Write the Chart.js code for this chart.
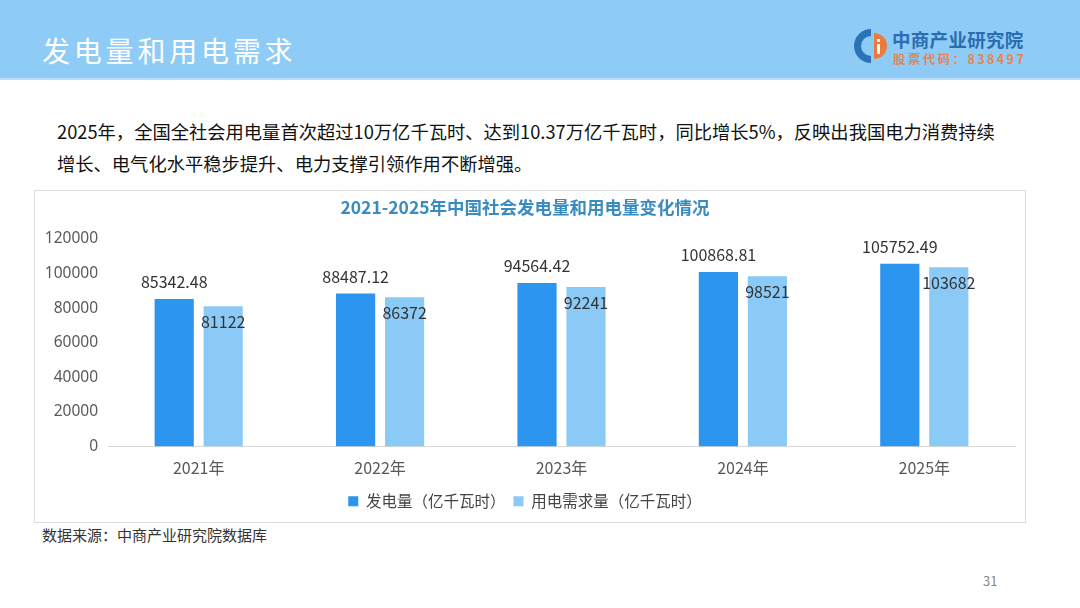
<!DOCTYPE html>
<html><head><meta charset="utf-8">
<script src="https://cdn.jsdelivr.net/npm/chart.js@4"></script>
<style>
html,body{margin:0;padding:0;width:1080px;height:608px;background:#fff;overflow:hidden;font-family:"Noto Sans CJK SC","Noto Sans",sans-serif;}
#header{position:absolute;left:0;top:0;width:1080px;height:78px;background:#8ECBF7;border-bottom:2px solid #b9def9;}
#htitle{position:absolute;left:42px;top:30px;font-size:28px;line-height:40px;color:#fff;letter-spacing:3.8px;}
#logoIcon{position:absolute;left:853px;top:27px;width:36px;height:38px;}
#logoT1{position:absolute;left:892px;top:27px;font-size:18.5px;line-height:24px;color:#2a6db0;font-weight:bold;letter-spacing:0.3px;}
#logoT2{position:absolute;left:893px;top:51px;font-size:12.5px;line-height:16px;color:#e8834c;font-weight:bold;letter-spacing:2.4px;}
#body{position:absolute;left:57px;top:115px;width:1010px;font-size:18.3px;line-height:32px;color:#111;}
#box{position:absolute;left:34px;top:190px;width:990px;height:331px;border:1px solid #dcdcdc;}
#cw{position:absolute;left:35px;top:191px;width:990px;height:330px;}
#src{position:absolute;left:42px;top:524px;font-size:15px;line-height:22px;color:#333;}
#pg{position:absolute;left:983px;top:571px;font-size:13px;color:#888;}
</style></head>
<body>
<div id="header"><div id="htitle">发电量和用电需求</div>
<svg id="logoIcon" viewBox="0 0 36 38"><path d="M18 2 A17 17 0 1 0 18 36 L18 29 A10 10 0 1 1 18 9 Z" fill="#2a73b8"/><path d="M21 6 A13 13 0 0 1 21 32 Z" fill="#ec7a3c"/><rect x="24" y="12" width="3" height="3" fill="#fff"/><rect x="24" y="17" width="3" height="10" fill="#fff"/></svg>
<div id="logoT1">中商产业研究院</div><div id="logoT2">股票代码：838497</div></div>
<div id="body">2025年，全国全社会用电量首次超过10万亿千瓦时、达到10.37万亿千瓦时，同比增长5%，反映出我国电力消费持续<br>增长、电气化水平稳步提升、电力支撑引领作用不断增强。</div>
<div id="box"></div>
<div id="cw"><canvas id="c" width="990" height="330"></canvas></div>
<div id="src">数据来源：中商产业研究院数据库</div>
<div id="pg">31</div>
<script>
const categories = ["2021年","2022年","2023年","2024年","2025年"];
const generation = [85342.48, 88487.12, 94564.42, 100868.81, 105752.49];
const demand = [81122, 86372, 92241, 98521, 103682];
const seriesNames = ["发电量（亿千瓦时）","用电需求量（亿千瓦时）"];
const chartTitle = "2021-2025年中国社会发电量和用电量变化情况";

const labelPlugin = {
  id:'valLabels',
  afterDatasetsDraw(chart){
    const ctx = chart.ctx;
    ctx.save();
    ctx.font = '16px "Noto Sans CJK SC", "Noto Sans", sans-serif';
    ctx.fillStyle = '#333';
    ctx.textAlign = 'center';
    ctx.textBaseline = 'middle';
    chart.data.datasets.forEach((ds, di) => {
      const meta = chart.getDatasetMeta(di);
      meta.data.forEach((bar, i) => {
        const v = ds.data[i];
        const y = di === 0 ? bar.y - 17 : bar.y + 16;
        ctx.fillText(String(v), bar.x, y);
      });
    });
    ctx.restore();
  }
};

new Chart(document.getElementById('c'), {
  type:'bar',
  data:{
    labels:categories,
    datasets:[
      {label:seriesNames[0], data:generation, backgroundColor:'#2B95EF', categoryPercentage:0.54, barPercentage:0.8},
      {label:seriesNames[1], data:demand, backgroundColor:'#8BCAF6', categoryPercentage:0.54, barPercentage:0.8}
    ]
  },
  options:{
    responsive:false, animation:false,
    layout:{padding:{left:0,right:10,top:0,bottom:2}},
    plugins:{
      title:{display:true, text:chartTitle, color:'#3A8CC0', font:{size:17.5, weight:'bold', family:'"Noto Sans CJK SC", "Noto Sans", sans-serif'}, padding:{top:6,bottom:21}},
      legend:{position:'bottom', labels:{boxWidth:10, boxHeight:10, color:'#444', padding:8, font:{size:15.5, family:'"Noto Sans CJK SC", "Noto Sans", sans-serif'}}},
      tooltip:{enabled:false}
    },
    scales:{
      x:{grid:{display:false}, border:{display:true,color:'#d9d9d9'},
         ticks:{color:'#595959', padding:4, font:{size:16, family:'"Noto Sans CJK SC", "Noto Sans", sans-serif'}},
         afterFit(s){ s.height = 39; }},
      y:{min:0, max:120000, grid:{display:false, drawTicks:false}, border:{display:false},
         ticks:{stepSize:20000, color:'#595959', padding:10, font:{size:15.5, family:'"Noto Sans", sans-serif'}, callback:(v)=>String(v)},
         afterFit(s){ s.width = 73; }}
    }
  },
  plugins:[labelPlugin]
});
</script>
</body></html>
